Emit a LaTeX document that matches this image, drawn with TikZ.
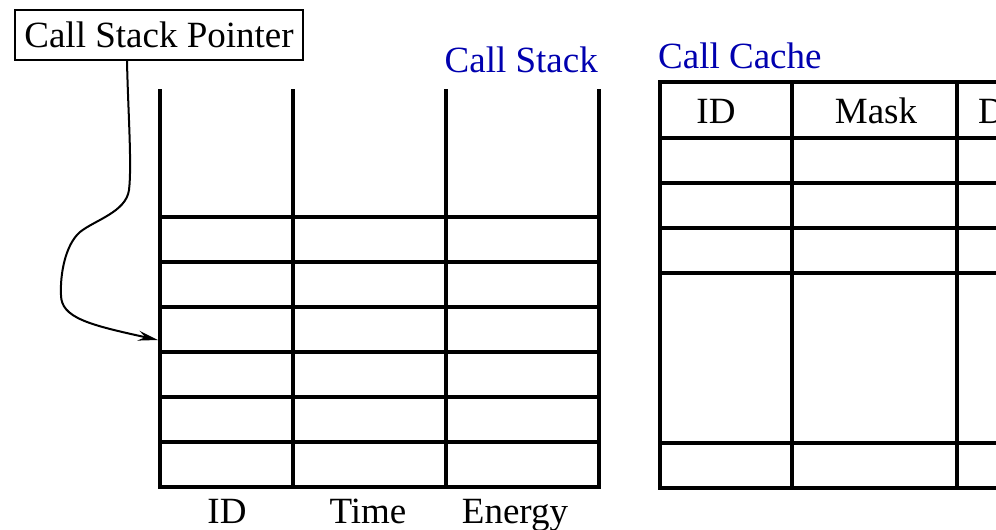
\documentclass[tikz,border=0pt]{standalone}
\usepackage{fontspec}
\setmainfont{Liberation Serif}
\usetikzlibrary{arrows.meta}
\definecolor{lblblue}{RGB}{0,0,175}
\begin{document}
\begin{tikzpicture}[x=1pt,y=-1pt,
  grid/.style={line width=3.2pt, line cap=rect},
  lbl/.style={inner sep=0pt, font=\fontsize{37}{44}\selectfont},
  title/.style={lbl, text=lblblue},
  ptrbox/.style={draw, line width=2pt, minimum width=288pt, minimum height=50pt, inner sep=0pt, font=\fontsize{37}{44}\selectfont},
  ptrarrow/.style={line width=2pt, -{Stealth[length=20pt,width=10pt,inset=7pt]}}
]
\useasboundingbox (0,0) rectangle (996,530);
\clip (0,0) rectangle (996,530);

% Call stack pointer box
\node[ptrbox] (csp) at (159,35) {Call Stack Pointer};

% Call stack table
\foreach \x in {160,293,446,599} \draw[grid, line cap=butt] (\x,89) -- (\x,488.6);
\foreach \y in {217,262,307,352,397,442,487} \draw[grid] (160,\y) -- (599,\y);
\node[title, anchor=base east] (cstitle) at (598,72) {Call Stack};
\node[lbl, anchor=base] (lid) at (227,523) {ID};
\node[lbl, anchor=base] (ltime) at (368,523) {Time};
\node[lbl, anchor=base] (lenergy) at (515,523) {Energy};

% Call cache table
\draw[grid] (660,82) -- (1010,82);
\foreach \y in {138,183,228,273,443,488} \draw[grid] (660,\y) -- (1010,\y);
\foreach \x in {660,792,957} \draw[grid] (\x,82) -- (\x,488);
\node[title, anchor=base west] (cctitle) at (658,68) {Call Cache};
\node[lbl, anchor=base] (hid) at (716,123) {ID};
\node[lbl, anchor=base] (hmask) at (876,123) {Mask};
\node[lbl, anchor=base west] (hd) at (978,123) {D};

% pointer arrow
\coordinate (tip) at (158,340);
\draw[ptrarrow] ([xshift=-32pt]csp.south)
  .. controls (128,110) and (132,165) .. (129,190)
  .. controls (126,212) and (95,220) .. (80,232)
  .. controls (65,245) and (60,275) .. (61,295)
  .. controls (61,318) and (90,325) .. (tip);
\end{tikzpicture}
\end{document}
